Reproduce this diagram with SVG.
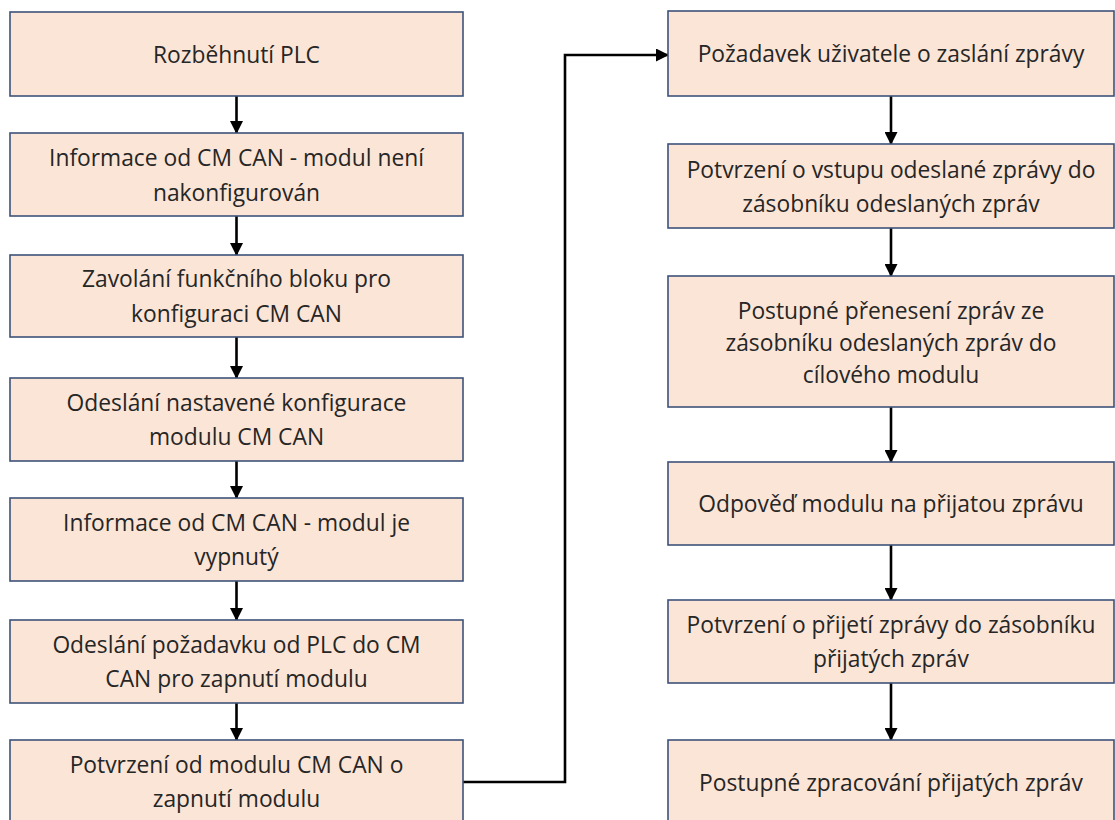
<svg xmlns="http://www.w3.org/2000/svg" width="1115" height="820" viewBox="0 0 1115 820">
<style>
.box{fill:#FBE5D6;stroke:#3E5279;stroke-width:1.6}
.t{font-family:"Open Sans","Liberation Sans",sans-serif;font-size:22.8px;fill:#262626;text-anchor:middle}
.c{fill:none;stroke:#000;stroke-width:2.6}
</style>
<defs>
<marker id="ah" markerUnits="userSpaceOnUse" markerWidth="13" markerHeight="13" refX="12" refY="6.5" orient="auto">
<path d="M0,0 L13,6.5 L0,13 z" fill="#000"/>
</marker>
</defs>
<rect width="1115" height="820" fill="#fff"/>
<g id="connectors">
<line class="c" x1="236.5" y1="96" x2="236.5" y2="133" marker-end="url(#ah)"/>
<line class="c" x1="236.5" y1="216" x2="236.5" y2="255" marker-end="url(#ah)"/>
<line class="c" x1="236.5" y1="337" x2="236.5" y2="378" marker-end="url(#ah)"/>
<line class="c" x1="236.5" y1="461" x2="236.5" y2="498" marker-end="url(#ah)"/>
<line class="c" x1="236.5" y1="581" x2="236.5" y2="620" marker-end="url(#ah)"/>
<line class="c" x1="236.5" y1="703" x2="236.5" y2="740" marker-end="url(#ah)"/>
<polyline class="c" points="463,782 565,782 565,55 668,55" marker-end="url(#ah)"/>
<line class="c" x1="891" y1="96" x2="891" y2="144" marker-end="url(#ah)"/>
<line class="c" x1="891" y1="228" x2="891" y2="276" marker-end="url(#ah)"/>
<line class="c" x1="891" y1="407" x2="891" y2="462" marker-end="url(#ah)"/>
<line class="c" x1="891" y1="545" x2="891" y2="600" marker-end="url(#ah)"/>
<line class="c" x1="891" y1="683" x2="891" y2="740" marker-end="url(#ah)"/>
</g>
<g id="n1"><rect class="box" x="10" y="12" width="453" height="84"/><text class="t" x="236.5" y="63">Rozběhnutí PLC</text></g>
<g id="n2"><rect class="box" x="10" y="133" width="453" height="83"/><text class="t" x="236.5" y="166">Informace od CM CAN - modul není</text><text class="t" x="236.5" y="200.5">nakonfigurován</text></g>
<g id="n3"><rect class="box" x="10" y="255" width="453" height="82"/><text class="t" x="236.5" y="287">Zavolání funkčního bloku pro</text><text class="t" x="236.5" y="321.5">konfiguraci CM CAN</text></g>
<g id="n4"><rect class="box" x="10" y="378" width="453" height="83"/><text class="t" x="236.5" y="410.5">Odeslání nastavené konfigurace</text><text class="t" x="236.5" y="445">modulu CM CAN</text></g>
<g id="n5"><rect class="box" x="10" y="498" width="453" height="83"/><text class="t" x="236.5" y="530.5">Informace od CM CAN - modul je</text><text class="t" x="236.5" y="565">vypnutý</text></g>
<g id="n6"><rect class="box" x="10" y="620" width="453" height="83"/><text class="t" x="236.5" y="652.5">Odeslání požadavku od PLC do CM</text><text class="t" x="236.5" y="687">CAN pro zapnutí modulu</text></g>
<g id="n7"><rect class="box" x="10" y="740" width="453" height="86"/><text class="t" x="236.5" y="772.5">Potvrzení od modulu CM CAN o</text><text class="t" x="236.5" y="807">zapnutí modulu</text></g>
<g id="n8"><rect class="box" x="668" y="11" width="446" height="85"/><text class="t" x="891" y="62">Požadavek uživatele o zaslání zprávy</text></g>
<g id="n9"><rect class="box" x="668" y="144" width="446" height="84"/><text class="t" x="891" y="177.5">Potvrzení o vstupu odeslané zprávy do</text><text class="t" x="891" y="211.5">zásobníku odeslaných zpráv</text></g>
<g id="n10"><rect class="box" x="668" y="276" width="446" height="131"/><text class="t" x="891" y="318.5">Postupné přenesení zpráv ze</text><text class="t" x="891" y="350.5">zásobníku odeslaných zpráv do</text><text class="t" x="891" y="382.5">cílového modulu</text></g>
<g id="n11"><rect class="box" x="668" y="462" width="446" height="83"/><text class="t" x="891" y="511.5">Odpověď modulu na přijatou zprávu</text></g>
<g id="n12"><rect class="box" x="668" y="600" width="446" height="83"/><text class="t" x="891" y="632.5">Potvrzení o přijetí zprávy do zásobníku</text><text class="t" x="891" y="667">přijatých zpráv</text></g>
<g id="n13"><rect class="box" x="668" y="740" width="446" height="86"/><text class="t" x="891" y="790.5">Postupné zpracování přijatých zpráv</text></g>
</svg>
